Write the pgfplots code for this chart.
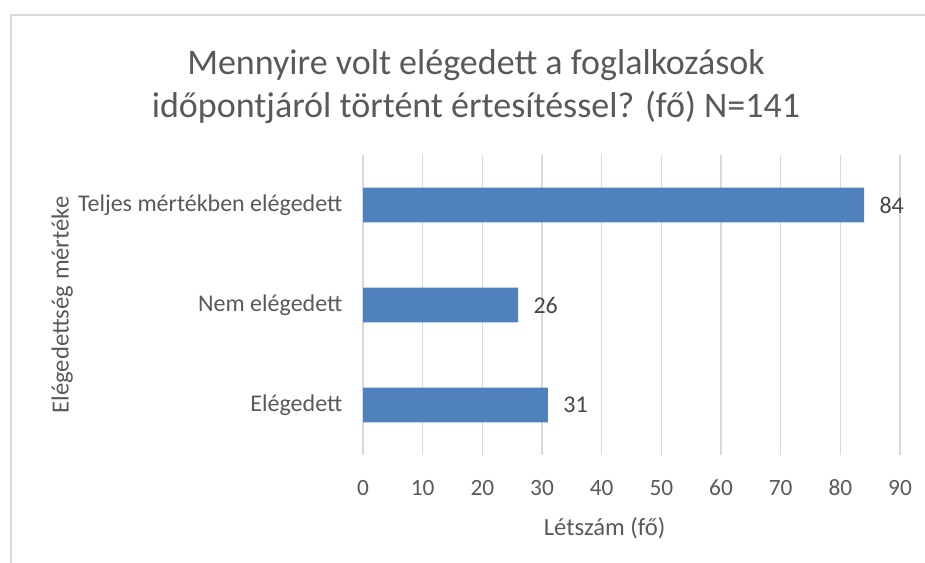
\documentclass[border=0pt]{standalone}
\usepackage{pgfplots}
\pgfplotsset{compat=1.18}
\usepackage{fontspec}
\setmainfont{Carlito}
\definecolor{txt}{HTML}{595959}
\definecolor{barc}{HTML}{4F81BD}
\definecolor{gridc}{HTML}{D9D9D9}
\definecolor{framec}{HTML}{D9D9D9}
\begin{document}
\begin{tikzpicture}
\path[use as bounding box] (0,0) rectangle (693.75pt,422.25pt);
\draw[framec, line width=1pt] (8.25pt,0) -- (8.25pt,411pt) -- (693.75pt,411pt);
\node[txt, font=\fontsize{27}{32}\selectfont] at (357pt,373.5pt) {Mennyire volt elégedett a foglalkozások};
\node[txt, font=\fontsize{27}{32}\selectfont] at (357pt,342pt) {időpontjáról történt értesítéssel? (fő) N=141};
\begin{axis}[
  at={(272.25pt,81pt)}, anchor=south west,
  scale only axis, width=402.75pt, height=225pt,
  xbar, bar width=26pt,
  xmin=0, xmax=90, xtick={0,10,...,90},
  ymin=-0.5, ymax=2.5,
  ytick={0,1,2},
  yticklabels={Elégedett, Nem elégedett, Teljes mértékben elégedett},
  axis line style={draw=none},
  major tick length=0pt,
  tick style={draw=none},
  xmajorgrids=true, ymajorgrids=false,
  grid style={draw=gridc, line width=1.2pt},
  ticklabel style={txt},
  /pgf/number format/assume math mode=true,
  xticklabel style={font=\fontsize{17.5}{21}\selectfont, text height=12pt, text depth=2pt, yshift=-15pt},
  yticklabel style={font=\fontsize{18}{22}\selectfont, xshift=-12pt},
  xlabel={Létszám (fő)},
  ylabel={Elégedettség mértéke},
  label style={txt, font=\fontsize{18.5}{22}\selectfont},
  xlabel style={at={(axis description cs:0.45,0)}, anchor=center, yshift=-55pt},
  ylabel style={at={(axis description cs:-0.56,0.5)}, anchor=center},
  nodes near coords,
  nodes near coords style={font=\fontsize{18}{21}\selectfont, text=black!72, anchor=west, xshift=8pt},
]
\addplot[fill=barc, draw=none] coordinates {(31,0) (26,1) (84,2)};
\end{axis}
\end{tikzpicture}
\end{document}
